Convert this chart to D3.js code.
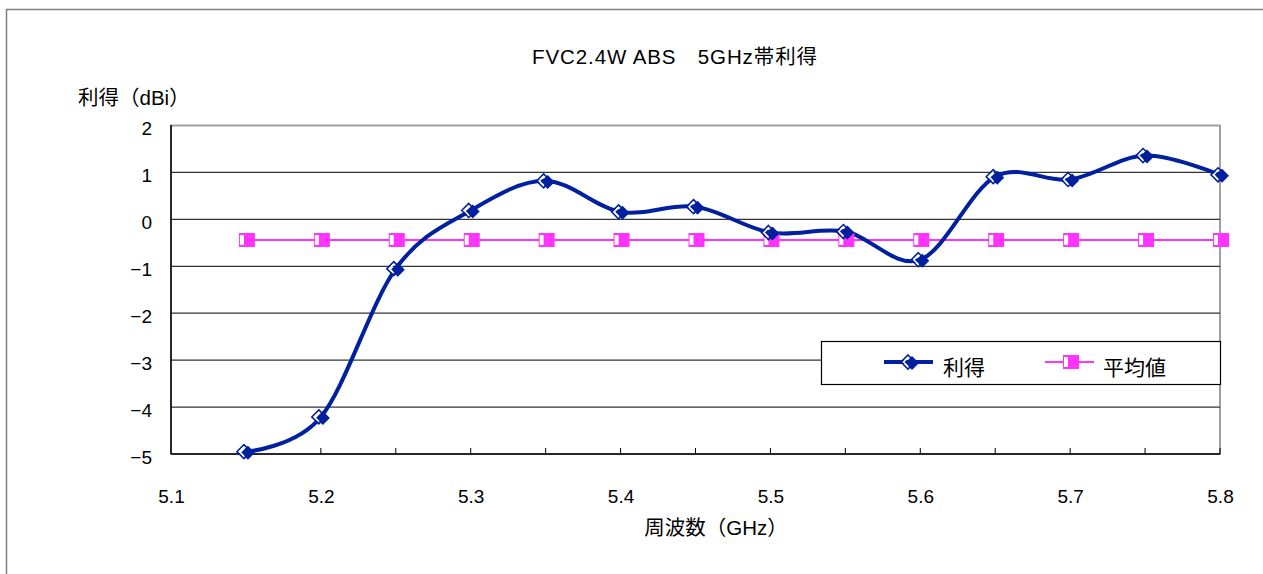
<!DOCTYPE html>
<html><head><meta charset="utf-8">
<script src="https://cdn.jsdelivr.net/npm/d3@7/dist/d3.min.js"></script>
<style>
body{margin:0;background:#fff;}
text{font-family:"Liberation Sans","Noto Sans CJK JP",sans-serif;fill:#000;}
</style></head>
<body><svg id="c" width="1263" height="574"></svg>
<script>
const freqs = [5.15,5.2,5.25,5.3,5.35,5.4,5.45,5.5,5.55,5.6,5.65,5.7,5.75,5.8];
const gain = [-4.95,-4.21,-1.05,0.19,0.82,0.16,0.27,-0.28,-0.26,-0.86,0.91,0.85,1.36,0.95];
const avg = [-0.44,-0.44,-0.44,-0.44,-0.44,-0.44,-0.44,-0.44,-0.44,-0.44,-0.44,-0.44,-0.44,-0.44];
const xTicks = [5.1,5.2,5.3,5.4,5.5,5.6,5.7,5.8];
const yTicks = [-5,-4,-3,-2,-1,0,1,2];
const title = "FVC2.4W ABS\u30005GHz帯利得";
const xTitle = "周波数（GHz）";
const yTitle = "利得（dBi）";
const seriesNames = ["利得","平均値"];

const svg = d3.select("#c");
const navy = "#00209F", mag = "#FF33FF";
// outer frame
svg.append("rect").attr("x",6.5).attr("y",9.5).attr("width",1270).attr("height",580)
  .attr("fill","none").attr("stroke","#808080").attr("stroke-width",1.5);

const x = d3.scaleLinear().domain([5.1,5.8]).range([171,1220]);
const y = d3.scaleLinear().domain([-5,2]).range([454,125.5]);

// plot border
svg.append("rect").attr("x",171).attr("y",125.5).attr("width",1049).attr("height",328.5)
  .attr("fill","none").attr("stroke","#a0a0a0").attr("stroke-width",2);
// gridlines
svg.append("g").selectAll("line").data(yTicks.filter(d=>d>-5&&d<2)).join("line")
  .attr("x1",171).attr("x2",1220).attr("y1",d=>y(d)).attr("y2",d=>y(d))
  .attr("stroke","#333").attr("stroke-width",1.3);
// axes
const xa = svg.append("g").attr("transform","translate(0,454)")
  .call(d3.axisBottom(x).tickValues(xTicks).tickSize(0).tickFormat(d3.format(".1f")));
xa.select(".domain").remove();
xa.selectAll("text").attr("dy","0").attr("y",49).style("font-size","19px");
svg.append("line").attr("x1",171).attr("x2",1220).attr("y1",454).attr("y2",454).attr("stroke","#000").attr("stroke-width",1.5);
svg.append("line").attr("x1",171).attr("x2",171).attr("y1",125).attr("y2",454).attr("stroke","#000").attr("stroke-width",1.5);
svg.append("g").selectAll("line").data(freqs).join("line")
  .attr("x1",d=>x(d)).attr("x2",d=>x(d)).attr("y1",454).attr("y2",448).attr("stroke","#000").attr("stroke-width",1);
const ya = svg.append("g").attr("transform","translate(171,0)")
  .call(d3.axisLeft(y).tickValues(yTicks).tickSize(0).tickFormat(d=>d<0?"\u2212"+(-d):String(d)));
ya.select(".domain").remove();
ya.selectAll("text").attr("x",-19).attr("dy","0.35em").attr("y",2.5).style("font-size","19px");

// titles
svg.append("text").attr("x",675).attr("y",64).attr("text-anchor","middle").style("font-size","20.5px").style("letter-spacing","0.9px").text(title);
svg.append("text").attr("x",716).attr("y",535).attr("text-anchor","middle").style("font-size","20.5px").text(xTitle);
svg.append("text").attr("x",78).attr("y",105).style("font-size","20.5px").text(yTitle);

// series
const pts = freqs.map((f,i)=>[f,gain[i]]);
const apts = freqs.map((f,i)=>[f,avg[i]]);
svg.append("path").datum(apts).attr("fill","none").attr("stroke",mag).attr("stroke-width",2)
  .attr("d",d3.line().x(d=>x(d[0])).y(d=>y(d[1])));
svg.append("path").datum(pts).attr("fill","none").attr("stroke",navy).attr("stroke-width",4)
  .attr("d",d3.line().x(d=>x(d[0])).y(d=>y(d[1])).curve(d3.curveCardinal.tension(0)));

function sqMarker(g,cx,cy){
  g.append("rect").attr("x",cx-7).attr("y",cy-7).attr("width",16).attr("height",14).attr("fill",mag);
  g.append("rect").attr("x",cx-6).attr("y",cy-5).attr("width",4).attr("height",10).attr("fill","#fff");
}
function diaMarker(g,cx,cy){
  const s=7;
  g.append("path").attr("d",`M${cx+2},${cy-s+1}L${cx+s+2},${cy+1}L${cx+2},${cy+s+1}L${cx-s+2},${cy+1}Z`).attr("fill",navy);
  g.append("path").attr("d",`M${cx-2},${cy-s}L${cx+s-2},${cy}L${cx-2},${cy+s}L${cx-s-2},${cy}Z`)
    .attr("fill","none").attr("stroke",navy).attr("stroke-width",1.6);
  g.append("path").attr("d",`M${cx-2},${cy-s+2.5}L${cx-s+0.5},${cy}L${cx-2},${cy+s-2.5}`)
    .attr("fill","none").attr("stroke","#fff").attr("stroke-width",1.5);
}
const mg = svg.append("g");
apts.forEach(d=>sqMarker(mg,x(d[0]),y(d[1])));
pts.forEach(d=>diaMarker(mg,x(d[0]),y(d[1])));

// legend
const lg = svg.append("g");
lg.append("rect").attr("x",821.5).attr("y",341.5).attr("width",399).attr("height",43).attr("fill","#fff").attr("stroke","#000").attr("stroke-width",1.2);
lg.append("line").attr("x1",884).attr("x2",933).attr("y1",362).attr("y2",362).attr("stroke",navy).attr("stroke-width",4);
diaMarker(lg,910,362);
lg.append("text").attr("x",943).attr("y",375).style("font-size","21px").text(seriesNames[0]);
lg.append("line").attr("x1",1045).attr("x2",1094).attr("y1",362).attr("y2",362).attr("stroke",mag).attr("stroke-width",2);
sqMarker(lg,1070,362);
lg.append("text").attr("x",1103).attr("y",375).style("font-size","21px").text(seriesNames[1]);
</script></body></html>
